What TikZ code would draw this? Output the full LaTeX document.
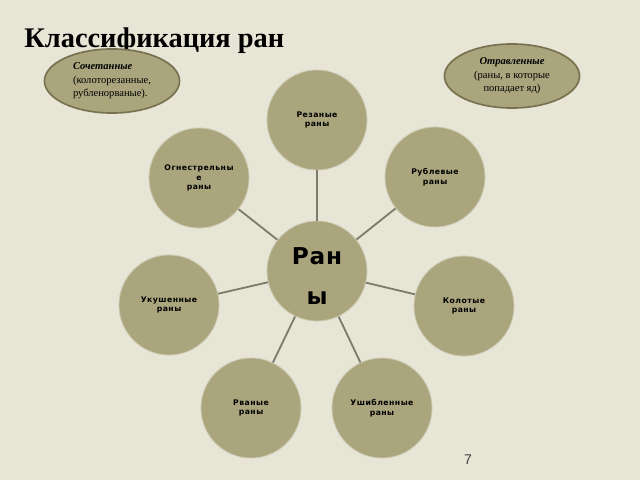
\documentclass[tikz,border=0pt]{standalone}
\usepackage{fontspec}
\setmainfont{Liberation Serif}
\setsansfont{Liberation Sans}
\newfontfamily\wundfont[LetterSpace=6]{DejaVu Sans}
\newfontfamily\mittefont[LetterSpace=3]{DejaVu Sans}
\usetikzlibrary{shapes.geometric}
\definecolor{hinter}{RGB}{230,229,214}
\definecolor{oliv}{RGB}{170,165,125}
\definecolor{rand}{RGB}{120,114,80}
\definecolor{linie}{RGB}{125,124,108}
\begin{document}
\begin{tikzpicture}[x = 0.025cm, y = -0.025cm,
    kreis/.style = {circle, fill = oliv, draw = oliv!60!white, line width = 0.6pt,
        minimum size = 2.5cm, inner sep = 0pt, align = center,
        font = \wundfont\bfseries\fontsize{5.5}{7}\selectfont},
    oval/.style = {ellipse, fill = oliv, draw = rand, line width = 1.2pt,
        minimum width = 3.375cm, minimum height = 1.6cm, inner sep = 0pt,
        font = \fontsize{7.5}{9.6}\selectfont},
    verb/.style = {draw = linie, line width = 1.3pt}]
    \fill[hinter] (0,0) rectangle (640,480);
    \useasboundingbox (0,0) rectangle (640,480);
    \node[anchor = base west, inner sep = 0pt, font = \bfseries\fontsize{20.2}{24}\selectfont] (titel) at (24,48) {Классификация ран};
    \node[oval, align = left] (soch) at (112,81) {\textbf{\textit{Сочетанные}}\\(колоторезанные,\\рубленорваные).};
    \node[oval, align = center] (otr) at (512,76) {\textbf{\textit{Отравленные}}\\(раны, в которые\\попадает яд)};
    \node[kreis] (ran) at (317,271) {};
    \node[font = \mittefont\bfseries\fontsize{16.5}{28}\selectfont, align = center] (rantext) at (317,276) {Ран\\ы};
    \node[kreis] (rez) at (317,120) {Резаные\\раны};
    \node[kreis] (ogn) at (199,178) {Огнестрельны\\е\\раны};
    \node[kreis] (rub) at (435,177) {Рублевые\\раны};
    \node[kreis] (uku) at (169,305) {Укушенные\\раны};
    \node[kreis] (kol) at (464,306) {Колотые\\раны};
    \node[kreis] (rva) at (251,408) {Рваные\\раны};
    \node[kreis] (ush) at (382,408) {Ушибленные\\раны};
    \draw[verb] (ran) -- (rez);
    \draw[verb] (ran) -- (ogn);
    \draw[verb] (ran) -- (rub);
    \draw[verb] (ran) -- (uku);
    \draw[verb] (ran) -- (kol);
    \draw[verb] (ran) -- (rva);
    \draw[verb] (ran) -- (ush);
    \node[font = \sffamily\fontsize{10}{12}\selectfont, text = black!75] (seite) at (468,460) {7};
\end{tikzpicture}
\end{document}
